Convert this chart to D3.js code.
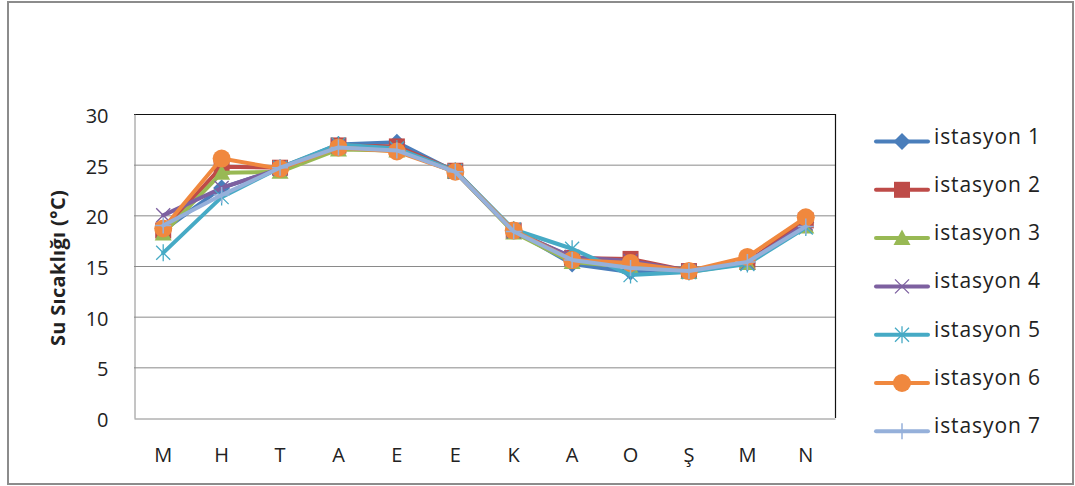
<!DOCTYPE html>
<html>
<head>
<meta charset="utf-8">
<script src="https://cdn.jsdelivr.net/npm/d3@7"></script>
<style>
  html, body { margin: 0; padding: 0; background: #fff; }
  svg text { font-family: "Open Sans", "Liberation Sans", sans-serif; fill: #222; }
</style>
</head>
<body>
<svg id="chart" width="1075" height="486"></svg>
<script>
// Months (first letters, Turkish)
const months = ["M", "H", "T", "A", "E", "E", "K", "A", "O", "Ş", "M", "N"];
const yTicks = [0, 5, 10, 15, 20, 25, 30];
const seriesNames = ["istasyon 1", "istasyon 2", "istasyon 3", "istasyon 4", "istasyon 5", "istasyon 6", "istasyon 7"];

// Water temperature (°C) per station
const istasyon1 = [18.5, 22.7, 24.6, 27.0, 27.2, 24.3, 18.5, 15.2, 14.4, 14.5, 15.3, 19.3];
const istasyon2 = [18.5, 24.8, 24.7, 26.9, 26.8, 24.4, 18.5, 15.8, 15.7, 14.5, 15.4, 19.5];
const istasyon3 = [18.2, 24.2, 24.3, 26.5, 26.4, 24.3, 18.3, 15.4, 14.9, 14.4, 15.3, 18.9];
const istasyon4 = [20.0, 22.7, 24.6, 26.8, 26.5, 24.3, 18.4, 15.9, 15.5, 14.5, 15.3, 19.2];
const istasyon5 = [16.3, 21.8, 24.7, 27.0, 26.6, 24.4, 18.6, 16.7, 14.1, 14.4, 15.2, 18.8];
const istasyon6 = [18.7, 25.6, 24.6, 26.7, 26.3, 24.3, 18.5, 15.6, 15.3, 14.5, 15.9, 19.8];
const istasyon7 = [19.0, 22.0, 24.7, 26.7, 26.4, 24.3, 18.4, 15.6, 14.8, 14.5, 15.4, 18.9];

const seriesValues = [istasyon1, istasyon2, istasyon3, istasyon4, istasyon5, istasyon6, istasyon7];
const colors = ["#4A7EBB", "#BE4B48", "#98B954", "#7D60A0", "#46AAC5", "#F0883E", "#95B0DA"];
const markerKinds = ["diamond", "square", "triangle", "x", "star", "circle", "plus"];

const svg = d3.select("#chart");

// Outer chart frame
svg.append("rect")
  .attr("x", 8).attr("y", 2).attr("width", 1065).attr("height", 482)
  .attr("fill", "#fff").attr("stroke", "#8c8c8c").attr("stroke-width", 2);

const plot = { left: 134, right: 835, top: 114, bottom: 418 };

const x = d3.scaleBand().domain(d3.range(months.length))
  .range([plot.left, plot.right]);
const y = d3.scaleLinear().domain([0, 30]).range([plot.bottom, plot.top]);

// Horizontal gridlines
svg.append("g").selectAll("line").data(yTicks.slice(1)).join("line")
  .attr("x1", plot.left).attr("x2", plot.right)
  .attr("y1", d => y(d) + 0.5).attr("y2", d => y(d) + 0.5)
  .attr("stroke", "#8a8a8a").attr("stroke-width", 1);

// Plot area border (top / right)
svg.append("path")
  .attr("d", `M${plot.left},${plot.top + 0.5}H${plot.right + 0.5}V${plot.bottom}`)
  .attr("fill", "none").attr("stroke", "#111").attr("stroke-width", 1.2);

// Y axis
const yAxis = d3.axisLeft(y).tickValues(yTicks).tickSize(0).tickPadding(26);
const gy = svg.append("g").attr("transform", `translate(${plot.left + 0.5},0)`).call(yAxis);
gy.select(".domain").attr("stroke", "#8a8a8a");
gy.selectAll("text").attr("font-size", 20).attr("fill", "#222").attr("dy", "0.43em")
  .style("font-family", '"Open Sans", sans-serif');

// X axis
const xAxis = d3.axisBottom(x).tickFormat(i => months[i]).tickSize(0).tickPadding(29);
const gx = svg.append("g").attr("transform", `translate(0,${plot.bottom + 0.5})`).call(xAxis);
gx.select(".domain").attr("stroke", "#8a8a8a");
gx.selectAll("text").attr("font-size", 20).attr("fill", "#222")
  .style("font-family", '"Open Sans", sans-serif');

// Y axis title
svg.append("text")
  .attr("transform", `translate(65,${(plot.top + plot.bottom) / 2 + 2}) rotate(-90)`)
  .attr("text-anchor", "middle")
  .attr("font-size", 20).attr("font-weight", "bold").attr("letter-spacing", 0.3)
  .text("Su Sıcaklığı (°C)");

// Marker drawing
function drawMarker(g, kind, color) {
  switch (kind) {
    case "diamond":
      g.append("path").attr("d", "M0,-8.5L8.5,0L0,8.5L-8.5,0Z").attr("fill", color);
      break;
    case "square":
      g.append("rect").attr("x", -8).attr("y", -8).attr("width", 16).attr("height", 16).attr("fill", color);
      break;
    case "triangle":
      g.append("path").attr("d", "M0,-8.5L8.5,7L-8.5,7Z").attr("fill", color);
      break;
    case "x":
      g.append("path").attr("d", "M-7,-7L7,7M-7,7L7,-7").attr("stroke", color).attr("stroke-width", 1.3).attr("fill", "none");
      break;
    case "star":
      g.append("path").attr("d", "M-7,-7L7,7M-7,7L7,-7M0,-8.5V8.5").attr("stroke", color).attr("stroke-width", 1.3).attr("fill", "none");
      break;
    case "circle":
      g.append("circle").attr("r", 9).attr("fill", color);
      break;
    case "plus":
      g.append("path").attr("d", "M-8,0H8M0,-8V8").attr("stroke", color).attr("stroke-width", 1.5).attr("fill", "none");
      break;
  }
}

const line = d3.line().x((d, i) => x(i) + x.bandwidth() / 2).y(d => y(d));

// Series lines and markers
seriesValues.forEach((vals, s) => {
  const g = svg.append("g");
  g.append("path").datum(vals).attr("d", line)
    .attr("fill", "none").attr("stroke", colors[s]).attr("stroke-width", 4)
    .attr("stroke-linejoin", "round").attr("stroke-linecap", "round");
  vals.forEach((v, i) => {
    const m = g.append("g").attr("transform", `translate(${x(i) + x.bandwidth() / 2},${y(v)})`);
    drawMarker(m, markerKinds[s], colors[s]);
  });
});

// Legend
const legend = svg.append("g");
seriesNames.forEach((name, s) => {
  const cy = 141.5 + s * 48.3;
  const item = legend.append("g");
  item.append("line").attr("x1", 876).attr("x2", 928).attr("y1", cy).attr("y2", cy)
    .attr("stroke", colors[s]).attr("stroke-width", 4).attr("stroke-linecap", "round");
  const m = item.append("g").attr("transform", `translate(902,${cy})`);
  drawMarker(m, markerKinds[s], colors[s]);
  item.append("text").attr("x", 934).attr("y", cy + 2)
    .attr("font-size", 21).attr("letter-spacing", 0.9).text(name);
});
</script>
</body>
</html>
